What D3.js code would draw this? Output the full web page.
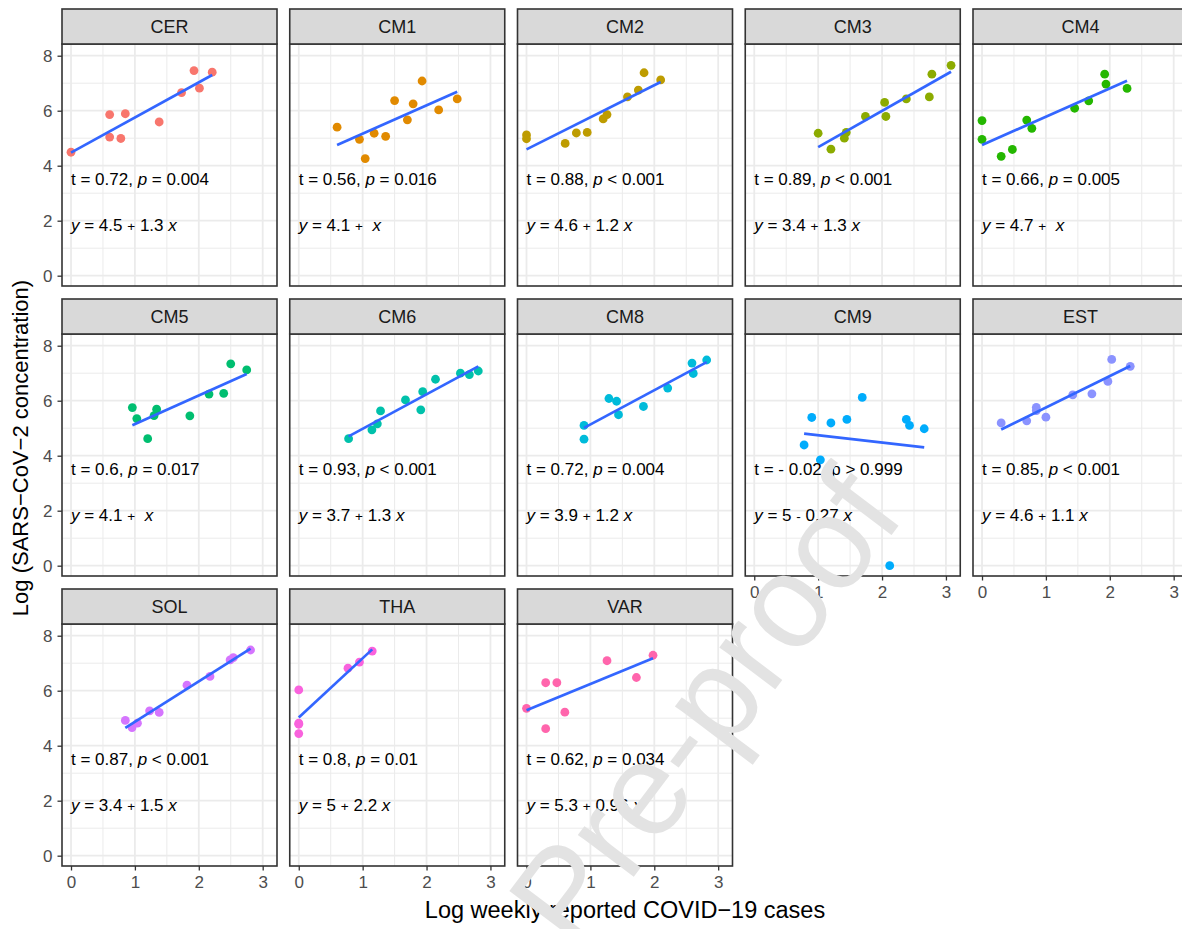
<!DOCTYPE html>
<html>
<head>
<meta charset="utf-8">
<script src="https://cdn.jsdelivr.net/npm/d3@7/dist/d3.min.js"></script>
<style>
  html, body { margin: 0; padding: 0; background: #fff; }
  svg { display: block; }
  text { font-family: "Liberation Sans", Arial, Helvetica, sans-serif; white-space: pre; }
</style>
</head>
<body>
<svg id="chart" width="1182" height="929"></svg>
<script>
// ---------- DATA ----------
const sites = ["CER","CM1","CM2","CM3","CM4","CM5","CM6","CM8","CM9","EST","SOL","THA","VAR"];
const palette = ["#F8766D","#E18A00","#BE9C00","#8CAB00","#24B700","#00BE70","#00C1AB","#00BBDA","#00ACFC","#8B93FF","#D575FE","#F962DD","#FF65AC"];

// [log weekly cases, log SARS-CoV-2 concentration]
const CER = [[0,4.49],[0.605,5.86],[0.605,5.04],[0.85,5.89],[0.78,4.99],[1.38,5.59],[1.73,6.66],[1.925,7.46],[2.01,6.82],[2.21,7.40]];
const CM1 = [[0.60,5.40],[0.95,4.96],[1.04,4.26],[1.18,5.18],[1.36,5.07],[1.50,6.37],[1.70,5.67],[1.79,6.25],[1.93,7.08],[2.19,6.03],[2.48,6.43]];
const CM2 = [[0,5.12],[0,4.98],[0.605,4.81],[0.78,5.19],[0.95,5.21],[1.20,5.70],[1.26,5.86],[1.58,6.50],[1.75,6.75],[1.84,7.38],[2.10,7.12]];
const CM3 = [[1.00,5.18],[1.20,4.60],[1.41,5.00],[1.44,5.21],[1.74,5.79],[2.04,6.30],[2.06,5.79],[2.38,6.43],[2.74,6.50],[2.78,7.33],[3.08,7.65]];
const CM4 = [[0,5.64],[0,4.96],[0.30,4.34],[0.475,4.59],[0.70,5.66],[0.78,5.36],[1.45,6.09],[1.67,6.36],[1.92,7.33],[1.94,6.97],[2.27,6.81]];
const CM5 = [[0.96,5.75],[1.03,5.35],[1.20,4.62],[1.30,5.46],[1.34,5.69],[1.86,5.45],[2.16,6.24],[2.39,6.27],[2.50,7.34],[2.75,7.12]];
const CM6 = [[0.78,4.62],[1.145,4.94],[1.23,5.16],[1.28,5.63],[1.67,6.03],[1.91,5.67],[1.94,6.33],[2.14,6.78],[2.53,7.00],[2.67,6.95],[2.81,7.08]];
const CM8 = [[0.90,5.10],[0.90,4.60],[1.29,6.08],[1.41,5.98],[1.44,5.49],[1.83,5.79],[2.21,6.46],[2.59,7.37],[2.61,6.99],[2.82,7.48]];
const CM9 = [[0.78,4.39],[0.90,5.39],[1.035,3.85],[1.20,5.19],[1.45,5.32],[1.69,6.12],[2.38,5.32],[2.43,5.10],[2.66,4.98],[2.12,0]];
const EST = [[0.30,5.19],[0.70,5.27],[0.85,5.76],[0.85,5.64],[1.00,5.40],[1.42,6.21],[1.72,6.25],[1.97,6.70],[2.03,7.50],[2.32,7.25]];
const SOL = [[0.85,4.92],[0.955,4.66],[1.04,4.82],[1.23,5.27],[1.38,5.21],[1.815,6.20],[2.175,6.52],[2.49,7.12],[2.54,7.20],[2.81,7.48]];
const THA = [[0,6.03],[0,4.82],[0,4.78],[0,4.44],[0.77,6.82],[0.95,7.04],[1.15,7.44]];
const VAR = [[0,5.36],[0.30,6.29],[0.475,6.29],[0.60,5.22],[0.30,4.62],[1.26,7.09],[1.72,6.48],[1.98,7.29]];
const siteData = [CER,CM1,CM2,CM3,CM4,CM5,CM6,CM8,CM9,EST,SOL,THA,VAR];

// correlation labels
const tauText = ["0.72","0.56","0.88","0.89","0.66","0.6","0.93","0.72","- 0.02","0.85","0.87","0.8","0.62"];
const pOp     = ["=","=","<","<","=","=","<","=",">","<","<","=","="];
const pText   = ["0.004","0.016","0.001","0.001","0.005","0.017","0.001","0.004","0.999","0.001","0.001","0.01","0.034"];
const pItalic = [true,true,true,true,true,true,true,true,false,true,true,true,true];
// regression equation labels
const eqIntercept = ["4.5","4.1","4.6","3.4","4.7","4.1","3.7","3.9","5","4.6","3.4","5","5.3"];
const eqSign      = ["+","+","+","+","+","+","+","+","-","+","+","+","+"];
const eqSlope     = ["1.3","","1.2","1.3","","","1.3","1.2","0.27","1.1","1.5","2.2","0.96"];

const xTicks = [0,1,2,3];
const yTicks = [0,2,4,6,8];
const xMinor = [0.5,1.5,2.5];
const yMinor = [1,3,5,7];

const xTitle = "Log weekly reported COVID\u221219 cases";
const yTitle = "Log (SARS\u2212CoV\u22122 concentration)";
const watermark = "Pre-proof";

// ---------- LAYOUT ----------
const svg = d3.select("#chart");
const nCol = 5;
const colStep = 227.75, panelW = 215, left0 = 62;
const rowStep = 290, top0 = 9, stripH = 35, plotH = 242;
const xDomain = [-0.141, 3.224];
const yDomain = [-0.375, 8.426];
const fontTick = 17, fontStrip = 18, fontAnno = 17, fontXTitle = 23.5, fontYTitle = 22;

sites.forEach((site, i) => {
  const r = Math.floor(i / nCol), c = i % nCol;
  const px = left0 + c * colStep;
  const stripTop = top0 + r * rowStep;
  const py = stripTop + stripH;
  const x = d3.scaleLinear().domain(xDomain).range([px, px + panelW]);
  const y = d3.scaleLinear().domain(yDomain).range([py + plotH, py]);
  const g = svg.append("g");

  g.append("rect").attr("x", px).attr("y", py).attr("width", panelW).attr("height", plotH).attr("fill", "#fff");

  // minor grid
  g.selectAll(null).data(xMinor).join("line")
    .attr("x1", d => x(d)).attr("x2", d => x(d)).attr("y1", py).attr("y2", py + plotH)
    .attr("stroke", "#EBEBEB").attr("stroke-width", 1);
  g.selectAll(null).data(yMinor).join("line")
    .attr("y1", d => y(d)).attr("y2", d => y(d)).attr("x1", px).attr("x2", px + panelW)
    .attr("stroke", "#EBEBEB").attr("stroke-width", 1);
  // major grid
  g.selectAll(null).data(xTicks).join("line")
    .attr("x1", d => x(d)).attr("x2", d => x(d)).attr("y1", py).attr("y2", py + plotH)
    .attr("stroke", "#EBEBEB").attr("stroke-width", 1.8);
  g.selectAll(null).data(yTicks).join("line")
    .attr("y1", d => y(d)).attr("y2", d => y(d)).attr("x1", px).attr("x2", px + panelW)
    .attr("stroke", "#EBEBEB").attr("stroke-width", 1.8);

  const pts = siteData[i];
  g.selectAll(null).data(pts).join("circle")
    .attr("cx", d => x(d[0])).attr("cy", d => y(d[1])).attr("r", 4.4)
    .attr("fill", palette[i]);

  // least-squares line
  const mx = d3.mean(pts, d => d[0]), my = d3.mean(pts, d => d[1]);
  const sxy = d3.sum(pts, d => (d[0] - mx) * (d[1] - my));
  const sxx = d3.sum(pts, d => (d[0] - mx) ** 2);
  const b = sxy / sxx, a = my - b * mx;
  const [x0, x1] = d3.extent(pts, d => d[0]);
  g.append("path")
    .attr("d", d3.line().x(d => x(d)).y(d => y(a + b * d))([x0, x1]))
    .attr("stroke", "#3366FF").attr("stroke-width", 2.7).attr("fill", "none");

  // correlation label
  const t1 = g.append("text").attr("x", x(0)).attr("y", y(3.28))
    .attr("font-size", fontAnno).attr("fill", "#000");
  t1.append("tspan").text("t = " + tauText[i] + ", ");
  t1.append("tspan").text("p").attr("font-style", pItalic[i] ? "italic" : "normal");
  t1.append("tspan").text(" " + pOp[i] + " " + pText[i]);

  // equation label
  const t2 = g.append("text").attr("x", x(0)).attr("y", y(1.61))
    .attr("font-size", fontAnno).attr("fill", "#000");
  t2.append("tspan").text("y").attr("font-style", "italic");
  t2.append("tspan").text(" = " + eqIntercept[i] + " ");
  t2.append("tspan").text(eqSign[i]).attr("font-size", fontAnno * 0.8);
  t2.append("tspan").text(" " + eqSlope[i] + " ");
  t2.append("tspan").text("x").attr("font-style", "italic");

  // panel border
  g.append("rect").attr("x", px).attr("y", py).attr("width", panelW).attr("height", plotH)
    .attr("fill", "none").attr("stroke", "#333333").attr("stroke-width", 1.6);

  // strip
  g.append("rect").attr("x", px).attr("y", stripTop).attr("width", panelW).attr("height", stripH)
    .attr("fill", "#D9D9D9").attr("stroke", "#333333").attr("stroke-width", 1.6);
  g.append("text").attr("x", px + panelW / 2).attr("y", stripTop + stripH / 2 + 6.4)
    .attr("text-anchor", "middle").attr("font-size", fontStrip).attr("fill", "#1A1A1A").text(site);

  // y axis (first column)
  if (c === 0) {
    const ax = g.append("g").attr("transform", `translate(${px},0)`)
      .call(d3.axisLeft(y).tickValues(yTicks).tickFormat(d3.format("d")).tickSize(4.5).tickPadding(5));
    ax.select(".domain").remove();
    ax.selectAll(".tick line").attr("stroke", "#333333").attr("stroke-width", 1.3);
    ax.selectAll(".tick text").attr("font-size", fontTick).attr("fill", "#4D4D4D")
      .attr("font-family", "Liberation Sans, Arial, sans-serif");
  }
  // x axis (bottom panel in its column)
  if (i + nCol >= sites.length) {
    const ax = g.append("g").attr("transform", `translate(0,${py + plotH})`)
      .call(d3.axisBottom(x).tickValues(xTicks).tickFormat(d3.format("d")).tickSize(4.5).tickPadding(5));
    ax.select(".domain").remove();
    ax.selectAll(".tick line").attr("stroke", "#333333").attr("stroke-width", 1.3);
    ax.selectAll(".tick text").attr("font-size", fontTick).attr("fill", "#4D4D4D")
      .attr("font-family", "Liberation Sans, Arial, sans-serif");
  }
});

// axis titles
svg.append("text").attr("x", left0 + (4 * colStep + panelW) / 2).attr("y", 918)
  .attr("text-anchor", "middle").attr("font-size", fontXTitle).attr("fill", "#000").text(xTitle);
svg.append("text").attr("transform", "translate(28,448) rotate(-90)")
  .attr("text-anchor", "middle").attr("font-size", fontYTitle).attr("fill", "#000").text(yTitle);

// watermark
svg.append("text").attr("transform", "translate(703,706) rotate(-53)")
  .attr("text-anchor", "middle").attr("dy", "0.36em")
  .attr("font-size", 132).attr("fill", "#E3E3E3").text(watermark);
</script>
</body>
</html>
